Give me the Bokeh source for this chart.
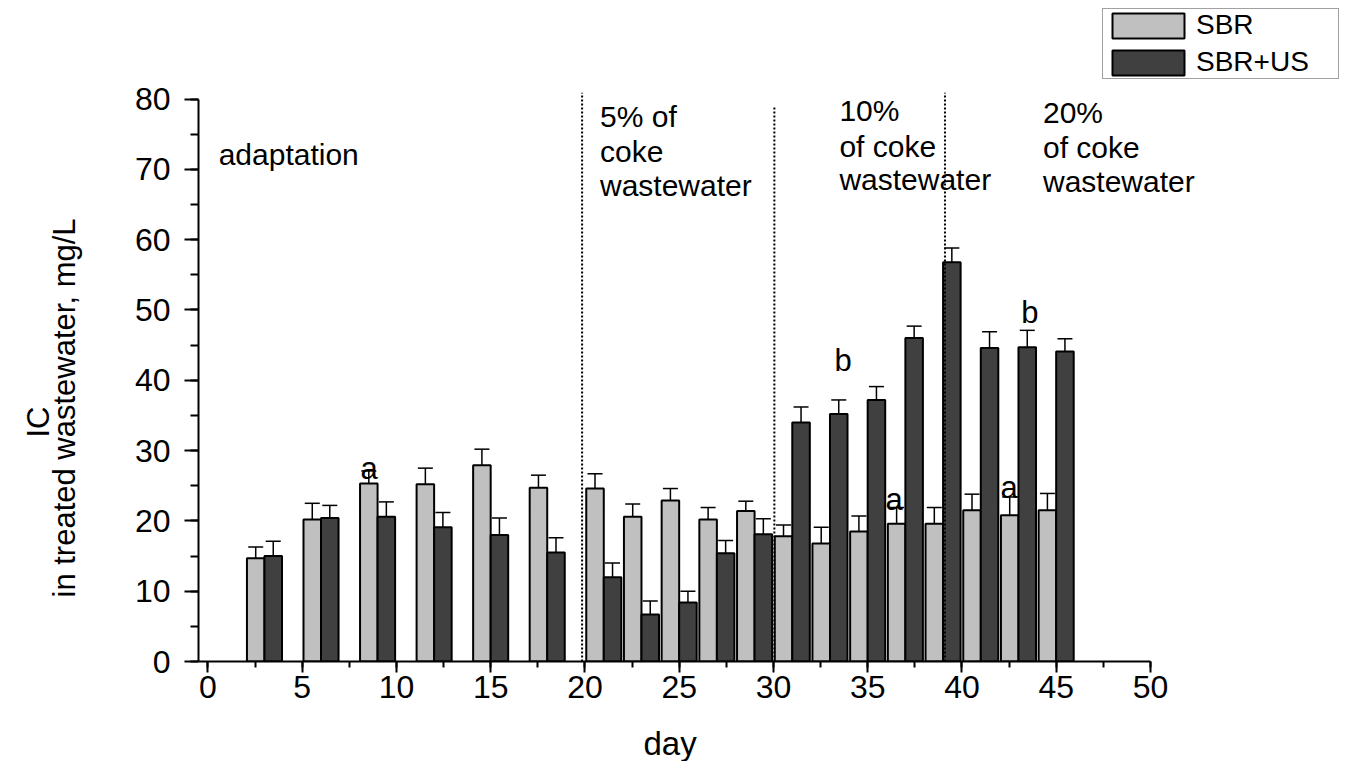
import numpy as np
from bokeh.plotting import figure
from bokeh.models import (ColumnDataSource, Range1d, SingleIntervalTicker, FixedTicker, Label,
                          Legend, LegendItem, Whisker, TeeHead, Title, LinearAxis)
from bokeh.transform import dodge
from bokeh.embed import file_html
from bokeh.resources import INLINE

# ---------------- data ----------------
days = [3, 6, 9, 12, 15, 18, 21, 23, 25, 27, 29, 31, 33, 35, 37, 39, 41, 43, 45]
sbr = [14.7, 20.2, 25.3, 25.2, 27.9, 24.7, 24.6, 20.6, 22.9, 20.2, 21.4, 17.8,
       16.8, 18.5, 19.6, 19.6, 21.5, 20.8, 21.5]
sbr_err = [1.6, 2.3, 1.8, 2.3, 2.3, 1.8, 2.1, 1.8, 1.7, 1.7, 1.4, 1.6,
           2.3, 2.2, 2.3, 2.3, 2.3, 2.6, 2.4]
sbr_us = [15.0, 20.4, 20.6, 19.1, 18.0, 15.5, 12.0, 6.7, 8.4, 15.4, 18.1, 34.0,
          35.2, 37.2, 46.0, 56.8, 44.6, 44.7, 44.1]
sbr_us_err = [2.1, 1.8, 2.1, 2.1, 2.4, 2.1, 2.0, 1.9, 1.6, 1.8, 2.2, 2.2,
              2.0, 1.9, 1.7, 2.0, 2.3, 2.4, 1.8]
series_names = ["SBR", "SBR+US"]

phase_bounds = [19.85, 30.05, 39.1]
phase_tops = [80.9, 78.9, 80.9]

letter_text = ["a", "b", "a", "b", "a"]
letter_day = [8.55, 33.7, 36.4, 43.6, 42.5]
letter_val = [27.5, 42.8, 23.0, 49.7, 24.8]

x_axis_bounds = (-0.5, 50)
y_axis_bounds = (0, 80)
x_ticks_interval = 5
y_ticks_interval = 10

FONT = "Liberation Sans"
BAR_W = 0.93
PX_PER_DAY = 18.85
PX_PER_UNIT = 7.031
FRAME_W = 1142
FRAME_H = 656

src = ColumnDataSource(dict(
    day=days,
    sbr=sbr, sbr_lo=np.array(sbr) - np.array(sbr_err), sbr_hi=np.array(sbr) + np.array(sbr_err),
    us=sbr_us, us_lo=np.array(sbr_us) - np.array(sbr_us_err), us_hi=np.array(sbr_us) + np.array(sbr_us_err),
))

p = figure(frame_width=FRAME_W, frame_height=FRAME_H,
           x_range=Range1d(-0.5, -0.5 + FRAME_W / PX_PER_DAY),
           y_range=Range1d(0, FRAME_H / PX_PER_UNIT),
           output_backend="svg", toolbar_location=None,
           min_border_left=198, min_border_right=3,
           min_border_top=5, min_border_bottom=100,
           background_fill_color="white", border_fill_color="white")
p.outline_line_color = None
p.xgrid.visible = False
p.ygrid.visible = False

r1 = p.vbar(x=dodge("day", -BAR_W / 2, range=p.x_range), top="sbr", width=BAR_W,
            source=src, fill_color="#c0c0c0", line_color="black", line_width=2)
r2 = p.vbar(x=dodge("day", BAR_W / 2, range=p.x_range), top="us", width=BAR_W,
            source=src, fill_color="#404040", line_color="black", line_width=2)

for col, off in (("sbr", -BAR_W / 2), ("us", BAR_W / 2)):
    w = Whisker(base=dodge("day", off, range=p.x_range), upper=col + "_hi", lower=col + "_lo",
                source=src, line_color="black", line_width=1.5,
                upper_head=TeeHead(size=15, line_color="black", line_width=1.5),
                lower_head=TeeHead(size=17, line_color="black", line_width=1.5))
    p.add_layout(w)

p.segment(x0=phase_bounds, y0=[0] * 3, x1=phase_bounds, y1=phase_tops,
          line_color="black", line_width=2, line_dash="2 2")

# axes
for ax in (p.xaxis[0], p.yaxis[0]):
    ax.axis_line_width = 2
    ax.major_tick_line_width = 2
    ax.minor_tick_line_width = 2
    ax.major_tick_in = 0
    ax.minor_tick_in = 0
    ax.major_label_text_font = FONT
    ax.major_label_text_font_size = "32px"
    ax.major_label_text_color = "black"
    ax.axis_line_color = "black"
    ax.major_tick_line_color = "black"
    ax.minor_tick_line_color = "black"

p.xaxis.bounds = x_axis_bounds
p.yaxis.bounds = y_axis_bounds
p.xaxis.ticker = SingleIntervalTicker(interval=x_ticks_interval, num_minor_ticks=2)
p.yaxis.ticker = SingleIntervalTicker(interval=y_ticks_interval, num_minor_ticks=2)
p.xaxis.major_tick_out = 11
p.xaxis.minor_tick_out = 6
p.xaxis.major_label_standoff = 3
p.yaxis.major_tick_out = 14
p.yaxis.minor_tick_out = 8
p.yaxis.major_label_standoff = 14


def spacer(size, at):
    # invisible axis used only to reserve room in a side panel
    return LinearAxis(ticker=FixedTicker(ticks=[at]), major_label_overrides={at: ""},
                      axis_line_color=None,
                      major_tick_line_color="white", minor_tick_line_color=None,
                      major_tick_out=size, major_tick_in=0, minor_tick_out=0, minor_tick_in=0,
                      major_label_standoff=0)


p.add_layout(spacer(50, 88), "left")
p.add_layout(Title(text="in treated wastewater, mg/L", align="left", offset=64,
                   text_font=FONT, text_font_size="31px", text_font_style="normal",
                   text_color="black", standoff=0), "left")
ic_title = Title(text="IC", align="left", offset=224,
                 text_font=FONT, text_font_size="31px", text_font_style="normal",
                 text_color="black", standoff=0)
try:
    ic_title.standoff = -22
except Exception:
    ic_title.standoff = 0
p.add_layout(ic_title, "left")

p.add_layout(spacer(22, 58), "below")
p.add_layout(Title(text="day", align="left", offset=445,
                   text_font=FONT, text_font_size="33px", text_font_style="normal",
                   text_color="black", standoff=0), "below")

# phase texts
phase_texts = [
    (0.57, [72.1], ["adaptation"]),
    (20.8, [77.5, 72.5, 67.7], ["5% of", "coke", "wastewater"]),
    (33.5, [78.4, 73.3, 68.6], ["10%", "of coke", "wastewater"]),
    (44.3, [78.1, 73.1, 68.3], ["20%", "of coke", "wastewater"]),
]
for x0, ys, txts in phase_texts:
    for yy, t in zip(ys, txts):
        p.add_layout(Label(x=x0, y=yy, text=t, text_font=FONT, text_font_size="30px",
                           text_align="left", text_baseline="alphabetic", text_color="black"))

for t, xx, yy in zip(letter_text, letter_day, letter_val):
    p.add_layout(Label(x=xx, y=yy, text=t, text_font=FONT, text_font_size="31px",
                       text_align="center", text_baseline="alphabetic", text_color="black"))

legend = Legend(items=[LegendItem(label=series_names[0], renderers=[r1]),
                       LegendItem(label=series_names[1], renderers=[r2])],
                location=(904, 582), orientation="vertical",
                label_text_font=FONT, label_text_font_size="28px", label_text_color="black",
                glyph_width=90, glyph_height=31, label_standoff=3, label_width=142,
                padding=0, spacing=5, margin=0,
                border_line_color="#444444", border_line_width=1.5,
                background_fill_color="white", background_fill_alpha=1.0)
p.add_layout(legend)

open("out.html", "w").write(file_html(p, INLINE))
